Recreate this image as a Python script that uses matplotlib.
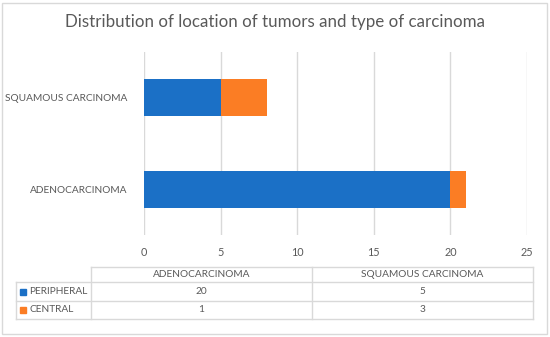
import matplotlib.pyplot as plt
from matplotlib.lines import Line2D
from matplotlib.patches import Rectangle

# data
categories = ['ADENOCARCINOMA', 'SQUAMOUS CARCINOMA']
peripheral = [20, 5]
central = [1, 3]
series_names = ['PERIPHERAL', 'CENTRAL']
colors = ['#1b70c6', '#fb7d24']
xticks = [0, 5, 10, 15, 20, 25]

txt = '#595959'
line_c = '#d9d9d9'

plt.rcParams['font.family'] = ['Lato', 'DejaVu Sans']

W, H = 550, 337
fig = plt.figure(figsize=(5.5, 3.37), dpi=100)

def fx(px):
    return px / W

def fy(py):
    return 1 - py / H

ax = fig.add_axes([fx(144), fy(235), fx(527) - fx(144), fy(52) - fy(235)])
y = list(range(len(categories)))
ax.barh(y, peripheral, height=0.4, color=colors[0], zorder=2)
ax.barh(y, central, left=peripheral, height=0.4, color=colors[1], zorder=2)
ax.set_xlim(0, 25)
ax.set_ylim(-0.5, 1.5)
ax.set_xticks(xticks)
ax.set_yticks(y)
ax.set_yticklabels(categories)
ax.grid(axis='x', color=line_c, linewidth=1, zorder=0)
for s in ax.spines.values():
    s.set_visible(False)
ax.tick_params(axis='both', length=0, labelsize=7.3, labelcolor=txt)
ax.tick_params(axis='x', labelsize=7.8, pad=9)
ax.tick_params(axis='y', pad=12)

fig.text(0.5, fy(22), 'Distribution of location of tumors and type of carcinoma',
         ha='center', va='center', fontsize=12.2, color=txt)

# data table below the chart
x_left, x_lab, x_mid, x_right = 16, 91, 312, 533
y_top, y_r1, y_r2, y_bot = 267, 282, 301, 319

def hline(py, x0, x1):
    fig.add_artist(Line2D([fx(x0), fx(x1)], [fy(py), fy(py)], color=line_c, lw=1))

def vline(px, y0, y1):
    fig.add_artist(Line2D([fx(px), fx(px)], [fy(y0), fy(y1)], color=line_c, lw=1))

hline(y_top, x_lab, x_right)
hline(y_r1, x_left, x_right)
hline(y_r2, x_left, x_right)
hline(y_bot, x_left, x_right)
vline(x_left, y_r1, y_bot)
vline(x_lab, y_top, y_bot)
vline(x_mid, y_top, y_bot)
vline(x_right, y_top, y_bot)

col_centers = [(x_lab + x_mid) / 2, (x_mid + x_right) / 2]
for cx, name in zip(col_centers, categories):
    fig.text(fx(cx), fy((y_top + y_r1) / 2), name, ha='center', va='center',
             fontsize=7.3, color=txt)

rows = [peripheral, central]
row_mid = [(y_r1 + y_r2) / 2, (y_r2 + y_bot) / 2]
for ry, name, col, vals in zip(row_mid, series_names, colors, rows):
    fig.add_artist(Rectangle((fx(20), fy(ry + 3)), fx(6), fy(0) - fy(6),
                             color=col, transform=fig.transFigure))
    fig.text(fx(29), fy(ry), name, ha='left', va='center', fontsize=7.3, color=txt)
    for cx, v in zip(col_centers, vals):
        fig.text(fx(cx), fy(ry), str(v), ha='center', va='center',
                 fontsize=7.3, color=txt)

# outer border
fig.add_artist(Rectangle((fx(2), fy(334)), fx(545), fy(0) - fy(331),
                         fill=False, edgecolor=line_c, lw=1,
                         transform=fig.transFigure))

fig.savefig('out.png', dpi=100)
